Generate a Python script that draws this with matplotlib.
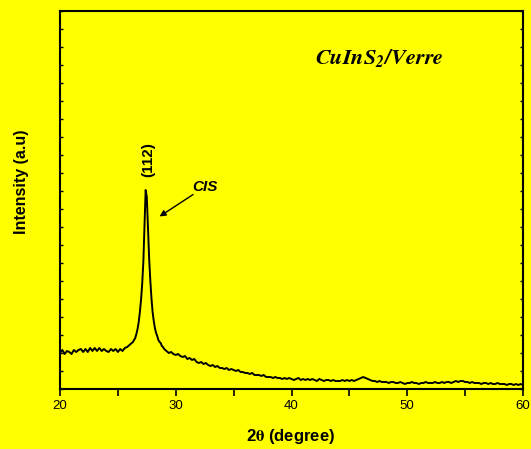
import numpy as np
from matplotlib import pyplot as plt
from matplotlib.ticker import MultipleLocator

plt.rcParams['font.family'] = ['Liberation Sans', 'DejaVu Sans']
plt.rcParams['mathtext.fontset'] = 'stix'

# 2theta grid (degrees): coarse baseline, fine around the (112) peak, coarse tail
two_theta = np.round(np.concatenate([np.arange(20.0, 26.01, 0.2),
                                     np.arange(26.1, 29.01, 0.1),
                                     np.arange(29.2, 60.01, 0.2)]), 2)

# intensity (arbitrary units)
intensity_base = [36, 39, 35, 38, 37, 35, 39, 37, 39, 40, 37, 40, 37, 41, 38, 41,
                  38, 41, 38, 40, 38, 37, 40, 38, 40, 37, 40, 38, 41, 42, 44]
intensity_peak = [45, 46, 47, 49, 51, 55, 60, 67, 77, 89, 105, 127, 164, 199, 192,
                  161, 131, 109, 91, 77, 68, 61, 56, 53, 49, 47, 46, 43, 42, 40]
intensity_tail = [38, 36, 37, 35, 34, 35, 33, 32, 33, 30, 31, 29, 30, 27, 26,
                  27, 25, 26, 24, 23, 24, 22, 23, 21, 21, 20, 21, 19, 20, 19,
                  18, 19, 17, 17, 16, 16, 15, 16, 14, 14, 14, 13, 14, 12, 12,
                  12, 11, 12, 11, 11, 10, 11, 10, 11, 10, 9, 10, 11, 9, 10,
                  9, 10, 9, 10, 9, 8, 10, 9, 8, 9, 9, 8, 9, 8, 8,
                  8, 9, 8, 9, 8, 9, 8, 9, 10, 11, 12, 11, 10, 9, 8,
                  8, 7, 8, 7, 7, 7, 6, 7, 7, 6, 6, 7, 6, 5, 6,
                  6, 7, 6, 6, 5, 6, 6, 7, 6, 6, 6, 7, 6, 6, 7,
                  6, 7, 7, 6, 7, 8, 7, 8, 8, 7, 7, 6, 7, 6, 6,
                  6, 5, 6, 6, 5, 6, 5, 5, 6, 5, 5, 5, 4, 5, 5,
                  4, 5, 4, 5, 4]
intensity = np.array(intensity_base + intensity_peak + intensity_tail, dtype=float)

yellow = '#FFFF00'
fig = plt.figure(figsize=(5.31, 4.49), dpi=100, facecolor=yellow)
ax = fig.add_axes([60 / 531, 60 / 449, 463 / 531, 378 / 449], facecolor=yellow)

ax.plot(two_theta, intensity, color='black', lw=1.4)

ax.set_xlim(20, 60)
ax.set_ylim(0, 378)
ax.xaxis.set_major_locator(MultipleLocator(10))
ax.xaxis.set_minor_locator(MultipleLocator(5))
ax.yaxis.set_major_locator(MultipleLocator(18))
ax.tick_params(axis='x', which='both', direction='out', length=5, width=1.2,
               labelsize=9.5, pad=3)
ax.tick_params(axis='y', which='both', direction='in', length=2, width=1,
               labelleft=False, right=True)
for s in ax.spines.values():
    s.set_linewidth(1.5)

fig.text(290 / 531, 1 - 436 / 449, r'2$\mathbf{\theta}$ (degree)', ha='center', va='center',
         fontsize=12, fontweight='bold')
fig.text(22 / 531, 1 - 182 / 449, 'Intensity (a.u)', ha='center', va='center',
         rotation=90, fontsize=11.5, fontweight='bold')

ax.text(27.65, 389 - 160, '(112)', rotation=90, ha='center', va='center',
        fontsize=11, fontweight='bold')
ax.text(31.4, 389 - 187, 'CIS', ha='left', va='center', fontsize=11,
        fontweight='bold', style='italic')
ax.annotate('', xy=(28.4, 389 - 218), xytext=(31.7, 389 - 193),
            arrowprops=dict(arrowstyle='-|>', color='black', lw=1, mutation_scale=9))
ax.text(42.0, 389 - 58, r'$\mathbfit{CuInS}_{\mathbfit{2}}\mathbfit{/Verre}$',
        ha='left', va='center', fontsize=16)

fig.savefig('out.png', dpi=100, facecolor=yellow)
